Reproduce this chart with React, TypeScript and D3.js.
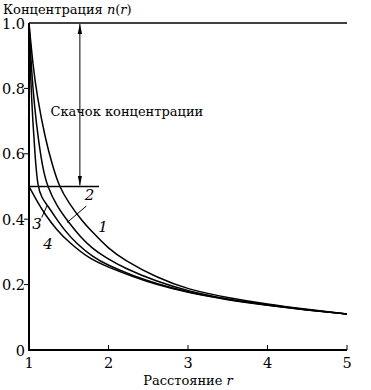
import React from "react";
import * as d3 from "d3";

// concentration curves n(r)
const r1 = [1, 1.05, 1.1, 1.2, 1.3, 1.38, 1.5, 1.65, 1.8, 2.0, 2.2, 2.6, 3.0, 3.5, 4.0, 4.5, 5.0];
const n1 = [1.0, 0.87, 0.78, 0.65, 0.56, 0.5, 0.45, 0.4, 0.36, 0.31, 0.275, 0.222, 0.185, 0.16, 0.14, 0.124, 0.11];

const r2 = [1, 1.03, 1.07, 1.12, 1.17, 1.23, 1.35, 1.5, 1.65, 1.8, 1.95, 2.2, 2.6, 3.0, 3.5, 4.0, 4.5, 5.0];
const n2 = [1.0, 0.86, 0.74, 0.64, 0.56, 0.5, 0.44, 0.39, 0.345, 0.31, 0.285, 0.25, 0.21, 0.18, 0.155, 0.138, 0.123, 0.11];

const r3 = [1, 1.02, 1.05, 1.08, 1.11, 1.16, 1.23, 1.32, 1.45, 1.6, 1.8, 2.0, 2.3, 2.6, 3.0, 3.5, 4.0, 4.5, 5.0];
const n3 = [1.0, 0.83, 0.69, 0.58, 0.5, 0.465, 0.443, 0.41, 0.365, 0.325, 0.285, 0.258, 0.228, 0.203, 0.177, 0.154, 0.137, 0.122, 0.11];

const r4 = [1, 1.1, 1.2, 1.35, 1.5, 1.75, 2.0, 2.3, 2.6, 3.0, 3.5, 4.0, 4.5, 5.0];
const n4 = [0.5, 0.455, 0.415, 0.367, 0.33, 0.28, 0.253, 0.225, 0.2, 0.175, 0.153, 0.136, 0.122, 0.11];

const xTicks = [1, 2, 3, 4, 5];
const yTicks = [0, 0.2, 0.4, 0.6, 0.8, 1.0];

// curve labels: [text, r, n]
const curveLabels: [string, number, number][] = [
  ["1", 1.93, 0.36],
  ["2", 1.76, 0.46],
  ["3", 1.1, 0.37],
  ["4", 1.24, 0.31],
];

const jumpR = 1.64;
const halfLineEnd = 1.88;

const W = 371;
const H = 390;
const font = '"DejaVu Serif", "Liberation Serif", serif';

export default function App() {
  const x = d3.scaleLinear().domain([1, 5]).range([29, 347]);
  const y = d3.scaleLinear().domain([0, 1]).range([350, 23]);

  const line = d3
    .line<[number, number]>()
    .x((d) => x(d[0]))
    .y((d) => y(d[1]))
    .curve(d3.curveBasis);

  const series = [
    d3.zip(r1, n1),
    d3.zip(r2, n2),
    d3.zip(r3, n3),
    d3.zip(r4, n4),
  ] as [number, number][][];

  const fmt = (v: number) => (v === 0 ? "0" : d3.format(".1f")(v));

  return (
    <div style={{ position: "absolute", left: 0, top: 0 }}>
      <svg width={W} height={H} style={{ display: "block", background: "#fff", fontFamily: font }}>
        <defs>
          <marker id="ah" viewBox="0 0 10 10" refX="10" refY="5" markerWidth="10" markerHeight="10" orient="auto-start-reverse" markerUnits="userSpaceOnUse">
            <path d="M0,2.8 L10,5 L0,7.2 Z" fill="#000" />
          </marker>
        </defs>

        {/* title of y axis */}
        <text x={3} y={14} fontSize={13}>
          Концентрация <tspan fontStyle="italic">n</tspan>(<tspan fontStyle="italic">r</tspan>)
        </text>

        {/* axes */}
        <line x1={x(1)} x2={x(1)} y1={y(1)} y2={y(0) + 1} stroke="#000" strokeWidth={2} />
        <line x1={x(1)} x2={x(5)} y1={y(0)} y2={y(0)} stroke="#000" strokeWidth={2} />

        {yTicks.map((t) => (
          <g key={"y" + t}>
            {t > 0 && t < 1 && (
              <line x1={x(1) - 5} x2={x(1)} y1={y(t)} y2={y(t)} stroke="#000" strokeWidth={1} />
            )}
            <text x={x(1) - 4} y={y(t) + 5.5} fontSize={14.5} textAnchor="end">
              {fmt(t)}
            </text>
          </g>
        ))}

        {xTicks.map((t) => (
          <g key={"x" + t}>
            {t > 1 && <line x1={x(t)} x2={x(t)} y1={y(0)} y2={y(0) - 5} stroke="#000" strokeWidth={1} />}
            <text x={x(t)} y={y(0) + 18} fontSize={14.5} textAnchor="middle">
              {t}
            </text>
          </g>
        ))}

        <text x={(x(1) + x(5)) / 2} y={385} fontSize={13} textAnchor="middle">
          Расстояние <tspan fontStyle="italic">r</tspan>
        </text>

        {/* reference lines and jump arrow */}
        <line x1={x(1)} x2={x(5)} y1={y(1)} y2={y(1)} stroke="#000" strokeWidth={1.5} />
        <line x1={x(1)} x2={x(halfLineEnd)} y1={y(0.5)} y2={y(0.5)} stroke="#000" strokeWidth={1.3} />
        <line
          x1={x(jumpR)}
          x2={x(jumpR)}
          y1={y(1) + 1}
          y2={y(0.5) - 1}
          stroke="#000"
          strokeWidth={1}
          markerStart="url(#ah)"
          markerEnd="url(#ah)"
        />
        <text x={x(1.27)} y={y(0.715)} fontSize={13}>
          Скачок концентрации
        </text>

        {/* curves */}
        {series.map((s, i) => (
          <path key={i} d={line(s) ?? ""} fill="none" stroke="#000" strokeWidth={1.5} />
        ))}

        {/* leader lines for labels 2 and 3 */}
        <line x1={x(1.72)} x2={x(1.48)} y1={y(0.44)} y2={y(0.39)} stroke="#000" strokeWidth={1} />
        <line x1={x(1.16)} x2={x(1.23)} y1={y(0.405)} y2={y(0.443)} stroke="#000" strokeWidth={1} />

        {curveLabels.map(([t, r, n]) => (
          <text key={t} x={x(r)} y={y(n)} fontSize={15} fontStyle="italic" textAnchor="middle">
            {t}
          </text>
        ))}
      </svg>
    </div>
  );
}
